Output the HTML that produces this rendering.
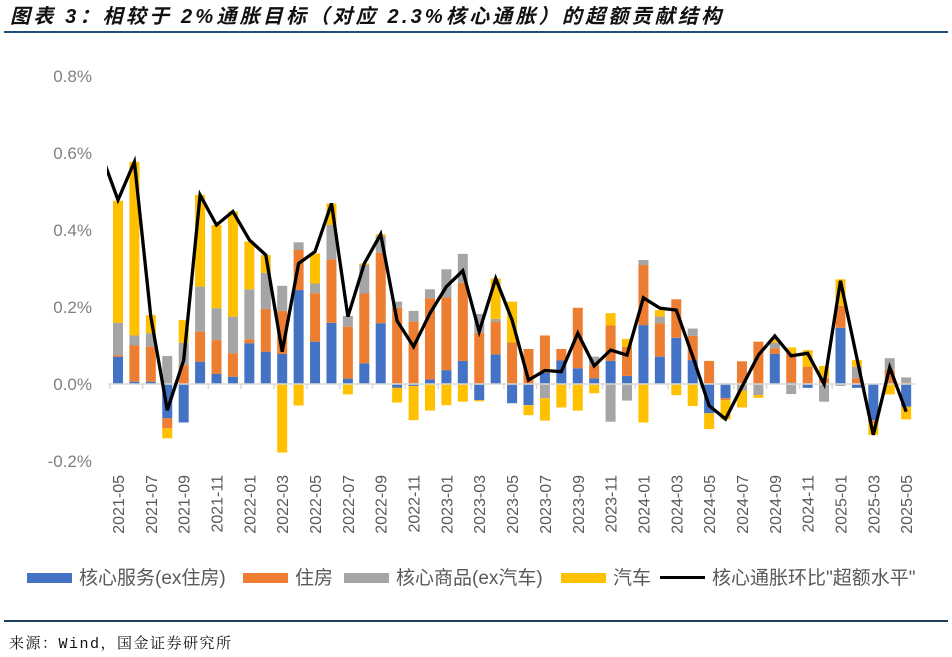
<!DOCTYPE html>
<html><head><meta charset="utf-8">
<style>
body{margin:0;background:#fff;width:952px;height:657px;overflow:hidden;font-family:"Liberation Sans","Noto Sans CJK SC",sans-serif;}
#title{position:absolute;left:10px;top:0px;font-size:20px;font-weight:bold;font-style:italic;color:#111;font-family:"Liberation Sans","Noto Sans CJK SC",sans-serif;letter-spacing:3.2px;white-space:nowrap}
#tline{position:absolute;left:4px;top:31px;width:944px;height:2px;background:#1f4e79}
#fline{position:absolute;left:4px;top:620px;width:944px;height:2px;background:#1f3d5c}
#src{position:absolute;left:9px;top:632px;font-size:15px;color:#111;letter-spacing:1.5px;font-family:"Liberation Mono","Noto Serif CJK SC",monospace}
</style></head><body>
<div id="title">图表 3：相较于 2%通胀目标（对应 2.3%核心通胀）的超额贡献结构</div>
<div id="tline"></div>
<svg id="chart" width="952" height="657" style="position:absolute;left:0;top:0"></svg>
<div id="fline"></div>
<div id="src">来源：Wind，国金证券研究所</div>
<script>
const months=[];
for(let i=0;i<49;i++){const y=2021+Math.floor((4+i)/12);const m=((4+i)%12)+1;months.push(y+'-'+String(m).padStart(2,'0'));}
const serviceVals=[.071,.006,.006,-.089,-.1,.058,.026,.019,.106,.084,.078,.244,.11,.159,.014,.054,.158,-.01,-.005,.012,.036,.06,-.042,.077,-.05,-.055,.029,.061,.041,.015,.06,.021,.153,.071,.12,.062,-.076,-.037,0,0,.078,.003,-.01,0,.146,-.01,-.094,0,-.059];
const housingVals=[.004,.094,.091,-.026,.049,.078,.088,.061,.01,.111,.112,.104,.126,.165,.135,.181,.183,.198,.162,.211,.189,.203,.133,.085,.108,.091,.097,.03,.157,.034,.092,.076,.156,.087,.1,.063,.06,-.005,.059,.11,.015,.077,.045,.015,.057,.015,-.008,.036,.003];
const goodsVals=[.084,.026,.035,.073,.058,.117,.083,.095,.13,.094,.065,.02,.025,.089,.028,.074,.043,.016,.028,.023,.073,.075,.049,.007,0,0,-.037,0,0,.022,-.098,-.043,.013,.017,0,.019,0,.002,-.017,-.029,.014,-.026,0,-.046,-.005,.03,0,.031,.014];
const autoVals=[.317,.451,.047,-.026,.059,.238,.216,.273,.124,.046,-.178,-.056,.078,.056,-.027,.004,.005,-.038,-.089,-.069,-.055,-.046,-.003,.105,.106,-.026,-.058,-.061,-.069,-.024,.032,.02,-.1,.017,-.029,-.057,-.041,-.05,-.044,-.007,.01,.015,.043,.032,.069,.017,-.03,-.027,-.033];
const lineStart=.595;
const lineVals=[.478,.577,.175,-.068,.062,.491,.413,.448,.374,.335,.084,.313,.344,.469,.175,.313,.389,.164,.097,.184,.253,.294,.136,.274,.166,.01,.035,.032,.132,.047,.088,.075,.224,.197,.192,.072,-.056,-.091,-.007,.075,.125,.073,.08,0,.268,.067,-.132,.043,-.072];
const yTicks=[0.8,0.6,0.4,0.2,0,-0.2];
const yTickLabels=['0.8%','0.6%','0.4%','0.2%','0.0%','-0.2%'];

const NS='http://www.w3.org/2000/svg';
const svg=document.getElementById('chart');
const X0=118,DX=16.42,Y0=384,PPU=385;
const xs=i=>X0+DX*i;
const ys=v=>Y0-v*PPU;
function el(t,a,p){const e=document.createElementNS(NS,t);for(const k in a)e.setAttribute(k,a[k]);(p||svg).appendChild(e);return e;}
yTicks.forEach((v,i)=>{const t=el('text',{x:92,y:ys(v)+6,'text-anchor':'end','font-size':17,fill:'#7f7f7f'});t.textContent=yTickLabels[i];

});
const series=[[serviceVals,'#4472c4','bar-core-services'],[housingVals,'#ed7d31','bar-housing'],[goodsVals,'#a5a5a5','bar-core-goods'],[autoVals,'#ffc000','bar-autos']];
months.forEach((m,i)=>{let pos=0,neg=0;
series.forEach(([arr,c,n])=>{const v=arr[i];if(!v)return;let y0,y1;
if(v>0){y0=pos;y1=pos+v;pos=y1;}else{y0=neg;y1=neg+v;neg=y1;}
const r=el('rect',{x:xs(i)-5,y:Math.min(ys(y0),ys(y1)),width:10,height:Math.abs(ys(y1)-ys(y0)),fill:c});

});});
const ax=el('line',{x1:108,x2:915,y1:Y0,y2:Y0,stroke:'#d9d9d9','stroke-width':1.5});


for(let i=0;i<=49;i+=2){const tk=el('line',{x1:xs(i)-DX/2,x2:xs(i)-DX/2,y1:Y0,y2:Y0+5,stroke:'#d9d9d9','stroke-width':1.5});

}
months.forEach((m,i)=>{if(i%2)return;const t=el('text',{x:0,y:0,'text-anchor':'end','font-size':16,fill:'#595959',transform:`translate(${xs(i)+6},475) rotate(-90)`});t.textContent=m;

});
const cp=el('clipPath',{id:'cp'});el('rect',{x:107,y:40,width:820,height:500},cp);
let d='M'+xs(-1)+','+ys(lineStart);
lineVals.forEach((v,i)=>{d+=' L'+xs(i).toFixed(1)+','+ys(v).toFixed(1);});
const ln=el('path',{d:d,fill:'none',stroke:'#000','stroke-width':3.3,'stroke-linejoin':'miter','clip-path':'url(#cp)'});


const leg=[['#4472c4','核心服务(ex住房)',27],['#ed7d31','住房',243],['#a5a5a5','核心商品(ex汽车)',344],['#ffc000','汽车',561],['#000','核心通胀环比"超额水平"',660]];
leg.forEach(([c,txt,x],k)=>{const g=el('g',{});


if(k<4)el('rect',{x:x,y:573,width:45,height:10,fill:c},g);else el('rect',{x:x,y:576,width:45,height:3,fill:c},g);
const t=el('text',{x:x+52,y:584,'font-size':19,fill:'#595959'},g);t.textContent=txt;});
</script>
</body></html>
